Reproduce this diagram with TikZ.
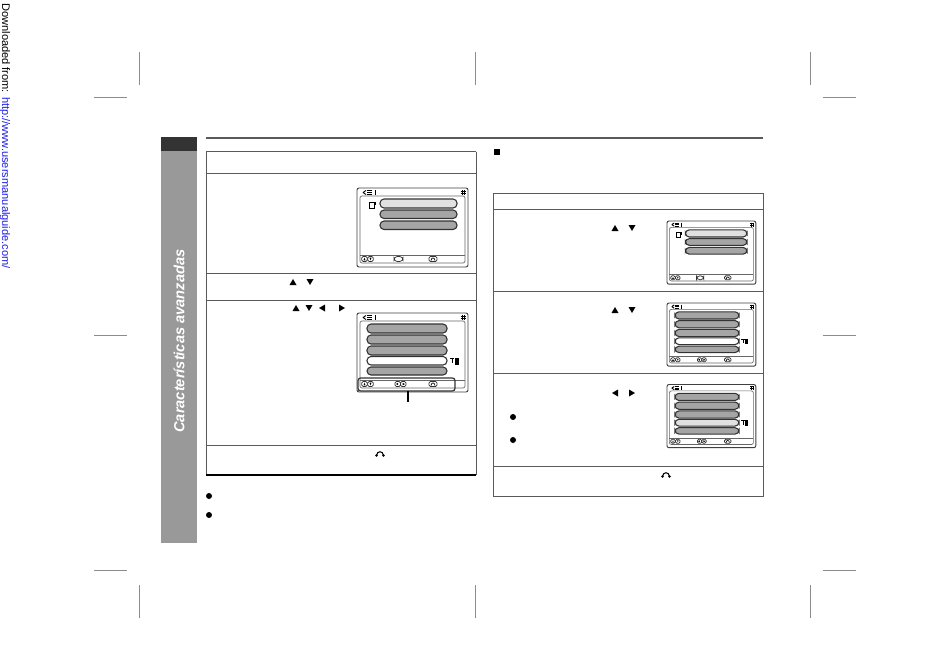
\documentclass[tikz,border=0pt]{standalone}
\usepackage{fontspec}
\setmainfont{Liberation Sans}
\definecolor{urlblue}{RGB}{30,30,235}
\definecolor{side}{RGB}{153,153,153}
\definecolor{sidedark}{RGB}{51,51,51}
\definecolor{rulegray}{RGB}{90,90,90}
\definecolor{pillgray}{RGB}{165,165,165}
\definecolor{pilllight}{RGB}{225,225,225}
\tikzset{
  crop/.style={draw=black!45,line width=0.6pt},
  frame/.style={draw=rulegray,line width=0.75pt},
  pill/.style={draw=black!80,line width=0.8pt,rounded corners=3pt},
  scr/.style={draw=black!75,line width=0.7pt},
  tri/.style={fill=black,draw=none},
  dot/.style={fill=black,draw=none,circle,minimum size=4.5pt,inner sep=0pt},
  keyc/.style={draw=black!80,line width=0.55pt,rounded corners=1pt}
}
\newcommand{\triup}[2]{\fill[tri] (#1-3.5,#2+3) -- (#1+3.5,#2+3) -- (#1,#2-3) -- cycle;}
\newcommand{\tridn}[2]{\fill[tri] (#1-3.5,#2-3) -- (#1+3.5,#2-3) -- (#1,#2+3) -- cycle;}
\newcommand{\trilf}[2]{\fill[tri] (#1+3,#2-3.5) -- (#1+3,#2+3.5) -- (#1-3,#2) -- cycle;}
\newcommand{\trirt}[2]{\fill[tri] (#1-3,#2-3.5) -- (#1-3,#2+3.5) -- (#1+3,#2) -- cycle;}
\newcommand{\retic}[2]{\draw[line width=0.8pt] (#1-3.5,#2+1.5) .. controls (#1-3,#2-3.5) and (#1+3,#2-3.5) .. (#1+3.5,#2+1.5);
  \fill (#1-3.5,#2+1.5) circle (1.3); \fill (#1+3.5,#2+1.5) circle (1.3);}
\newcommand{\scrbody}{
  \draw[scr,rounded corners=1.5pt,fill=white] (0,0) rectangle (111,79);
  \draw[draw=black!60,line width=0.5pt,rounded corners=1.5pt] (3,8) rectangle (108,75);
  \draw[draw=black!60,line width=0.5pt] (3,67) -- (108,67);
  \draw[line width=0.7pt] (10,2.5) -- (15,2.5) (10,4.5) -- (15,4.5) (10,6.5) -- (15,6.5);
  \draw[line width=0.7pt] (6,4.5) -- (9,2.5) (6,4.5) -- (9,6.5);
  \draw[line width=0.7pt] (18,2) -- (18,7);
  \draw[line width=0.7pt] (103.5,3) -- (109,3) (103.5,5) -- (109,5) (105.5,2) -- (105.5,7) (107.5,2) -- (107.5,7);
  \foreach \cx in {7.5,13.5} \draw[keyc] (\cx-2.8,68.5) rectangle (\cx+2.8,73.5);
  \fill (6.5,72.3) -- (8.5,72.3) -- (7.5,69.7) -- cycle;
  \fill (12.5,69.7) -- (14.5,69.7) -- (13.5,72.3) -- cycle;
}
\newcommand{\footerlast}{\draw[keyc] (72,68.5) rectangle (80,73.5);
  \draw[line width=0.5pt] (74,72.5) .. controls (74.5,69) and (77.5,69) .. (78,72.5);}
\newcommand{\scrA}{\scrbody
  \draw[keyc,rounded corners=2.5pt] (37,68.5) rectangle (46,73.5);
  \footerlast
  \draw[line width=0.7pt] (12,14) rectangle (17,20); \draw[line width=0.7pt] (15,14) -- (19,14) (18,14) -- (18,17);
  \draw[pill,fill=pilllight] (23,11) rectangle (100,20);
  \draw[pill,fill=pillgray] (23,22) rectangle (100,30.5);
  \draw[pill,fill=pillgray] (23,33) rectangle (100,41.5);
}
\newcommand{\scrB}[1]{\scrbody
  \draw[keyc] (38,68.5) rectangle (43.5,73.5); \draw[keyc] (43.5,68.5) rectangle (49,73.5);
  \fill (38.8,71) -- (41.2,69.8) -- (41.2,72.2) -- cycle;
  \fill (48,71) -- (45.6,69.8) -- (45.6,72.2) -- cycle;
  \footerlast
  \draw[pill,fill=pillgray] (10,11) rectangle (90,20);
  \draw[pill,fill=pillgray] (10,22) rectangle (90,31);
  \draw[pill,fill=pillgray] (10,33) rectangle (90,42);
  \draw[pill,fill=#1] (10,43.5) rectangle (90,52);
  \draw[pill,fill=pillgray] (10,54) rectangle (90,62);
  \draw[line width=0.7pt] (93,45) -- (97,45) (95,45) -- (95,50);
  \draw[line width=0.7pt] (98,45) rectangle (101,51);
  \fill (99,45) rectangle (101,51);
}
\begin{document}
\begin{tikzpicture}[x=0.75pt,y=-0.75pt]
\useasboundingbox (0,0) rectangle (950,671);
\fill[white] (0,0) rectangle (950,671);
\node[rotate=-90,anchor=west,inner sep=0pt,font=\fontsize{8.3pt}{10pt}\selectfont] (src) at (5,3) {Downloaded from: \textcolor{urlblue}{http://www.usersmanualguide.com/}};
\foreach \cx in {139.5,475,810.5} {
  \draw[crop] (\cx,52) -- (\cx,85);
  \draw[crop] (\cx,585) -- (\cx,618);
}
\foreach \cy in {97.5,335.5,570.5} {
  \draw[crop] (94,\cy) -- (127,\cy);
  \draw[crop] (823,\cy) -- (856,\cy);
}
\fill[side] (161,151) rectangle (197,543);
\fill[sidedark] (161,137) rectangle (197,151);
\node[rotate=90,inner sep=0pt,text=white,font=\fontsize{11pt}{13pt}\selectfont\bfseries\itshape,anchor=center] (sidetxt) at (179,341) {Características avanzadas};
\draw[draw=rulegray,line width=1pt] (206,138) -- (763,138);
\draw[frame] (206,151.5) -- (476,151.5);
\draw[frame] (206,151.5) -- (206,475) (476,151.5) -- (476,475);
\draw[draw=black,line width=0.9pt] (206,475) -- (476,475);
\foreach \ry in {173.5,273.5,300.5,445.5} \draw[frame] (206,\ry) -- (476,\ry);
\draw[frame] (493,193) rectangle (763,496);
\foreach \ry in {209.5,291.5,373.5,466.5} \draw[frame] (493,\ry) -- (763,\ry);
\fill (494,149) rectangle (499.5,155);
\triup{293}{282}\tridn{310}{282}
\triup{296}{308}\tridn{309}{308}\trilf{322}{308}\trirt{342}{308}
\triup{615}{228}\tridn{632}{228}
\triup{615}{310}\tridn{632}{310}
\trilf{615}{393}\trirt{632}{393}
\retic{380}{454}\retic{666}{475}
\node[dot] (b1) at (209,496) {};
\node[dot] (b2) at (209,515) {};
\node[dot] (b3) at (513,417) {};
\node[dot] (b4) at (513,440) {};
\begin{scope}[shift={(357,188)}] \scrA \end{scope}
\begin{scope}[shift={(357,313)}] \scrB{white} \end{scope}
\begin{scope}[shift={(667,221)},x=0.6pt,y=-0.6pt] \scrA \end{scope}
\begin{scope}[shift={(667,303)},x=0.6pt,y=-0.6pt] \scrB{white} \end{scope}
\begin{scope}[shift={(667,384.5)},x=0.6pt,y=-0.6pt] \scrB{pilllight} \end{scope}
\draw[draw=black!80,line width=0.9pt,rounded corners=2pt] (358,378) rectangle (455,391);
\coordinate (ca) at (408,391);
\coordinate (cb) at (408,402);
\draw[line width=0.8pt] (ca) -- (cb);
\end{tikzpicture}
\end{document}
